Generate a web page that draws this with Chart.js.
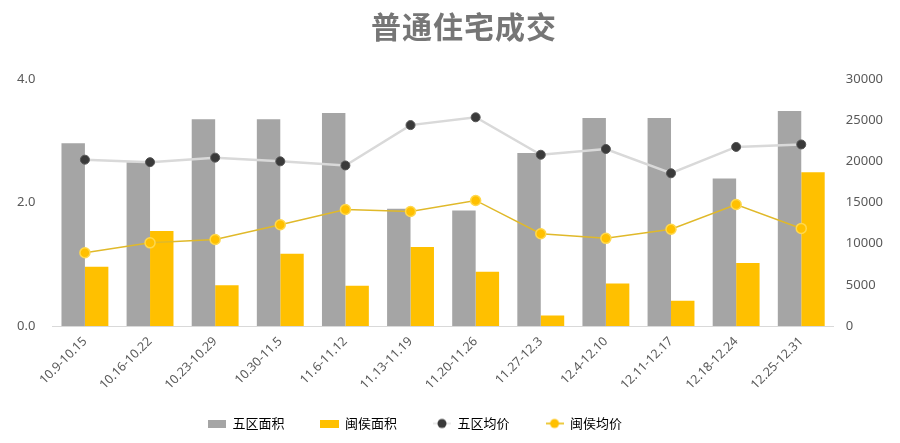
<!DOCTYPE html>
<html><head><meta charset="utf-8">
<script src="https://cdn.jsdelivr.net/npm/chart.js@4"></script>
<style>
html,body{margin:0;padding:0;background:#fff;}
#wrap{position:relative;width:900px;height:443px;}
#title{position:absolute;top:3px;left:354px;width:220px;text-align:center;font:bold 30px "Noto Sans CJK SC",sans-serif;color:#767676;letter-spacing:1px;}
</style></head>
<body><div id="wrap"><div id="title">普通住宅成交</div><canvas id="c" width="900" height="443"></canvas></div>
<script>
const categories = ["10.9-10.15","10.16-10.22","10.23-10.29","10.30-11.5","11.6-11.12","11.13-11.19","11.20-11.26","11.27-12.3","12.4-12.10","12.11-12.17","12.18-12.24","12.25-12.31"];
const wuquArea = [2.96,2.65,3.35,3.35,3.45,1.90,1.87,2.80,3.37,3.37,2.39,3.48];
const minhouArea = [0.96,1.54,0.66,1.17,0.65,1.28,0.88,0.17,0.69,0.41,1.02,2.49];
const wuquPrice = [20200,19900,20450,20000,19500,24400,25350,20800,21500,18550,21750,22050];
const minhouPrice = [8900,10100,10500,12300,14150,13900,15250,11200,10650,11750,14750,11850];
const leftTicks = [0,2,4];
const rightTicks = [0,5000,10000,15000,20000,25000,30000];

function mk(w,h,draw){const c=document.createElement('canvas');c.width=w;c.height=h;draw(c.getContext('2d'));return c;}
const icoGray = mk(18,8,g=>{g.fillStyle='#a5a5a5';g.fillRect(0,0,18,8);});
const icoYel = mk(19,8,g=>{g.fillStyle='#ffc000';g.fillRect(0,0,19,8);});
const icoDot = mk(18,12,g=>{g.strokeStyle='#e3e3e3';g.lineWidth=1.5;g.beginPath();g.moveTo(0,6);g.lineTo(18,6);g.stroke();g.fillStyle='#3a3a3a';g.beginPath();g.arc(9,6,4.5,0,Math.PI*2);g.fill();});
const icoYDot = mk(18,12,g=>{g.strokeStyle='#e6b800';g.lineWidth=1.5;g.beginPath();g.moveTo(0,6);g.lineTo(18,6);g.stroke();g.fillStyle='#ffc000';g.beginPath();g.arc(9,6,4.5,0,Math.PI*2);g.fill();});

const font = '"Noto Sans","Noto Sans CJK SC",sans-serif';
Chart.defaults.font.family = font;
Chart.defaults.color = '#595959';
const SP = '\u3000\u3000';
const SPEND = '\u3000\u3000\u3000\u3000\u3000';

new Chart(document.getElementById('c'),{
  data:{labels:categories,datasets:[
    {type:'bar',label:'五区面积',data:wuquArea,yAxisID:'y',backgroundColor:'#a5a5a5',order:3,categoryPercentage:0.72,barPercentage:1},
    {type:'bar',label:'闽侯面积',data:minhouArea,yAxisID:'y',backgroundColor:'#ffc000',order:3,categoryPercentage:0.72,barPercentage:1},
    {type:'line',label:'五区均价',data:wuquPrice,yAxisID:'y1',borderColor:'#d9d9d9',borderWidth:2.5,backgroundColor:'#3a3a3a',pointBorderColor:'#555',pointBorderWidth:1,pointRadius:4.5,order:1,tension:0},
    {type:'line',label:'闽侯均价',data:minhouPrice,yAxisID:'y1',borderColor:'#e0b92a',borderWidth:1.5,backgroundColor:'#ffc000',pointBorderColor:'#ffd84d',pointBorderWidth:1.5,pointRadius:5,order:0,tension:0}
  ]},
  options:{
    responsive:false,animation:false,
    layout:{padding:{top:79,left:8,right:13,bottom:3}},
    plugins:{
      title:{display:false},
      tooltip:{enabled:false},
      legend:{position:'bottom',
        labels:{usePointStyle:true,pointStyleWidth:18,padding:10,font:{size:13,family:'"Noto Sans CJK SC",sans-serif'},color:'#595959',
          generateLabels:(chart)=>{
            const icons=[icoGray,icoYel,icoDot,icoYDot];
            return chart.data.datasets.map((d,i)=>({text:d.label+(i<3?SP:SPEND),datasetIndex:i,pointStyle:icons[i],fillStyle:'#fff',strokeStyle:'#fff',lineWidth:0,hidden:false}));
          }
        }
      }
    },
    scales:{
      x:{grid:{display:false,drawTicks:false},border:{color:'#d9d9d9'},afterFit:a=>{a.height=81;a.paddingLeft=0;a.paddingRight=0;},ticks:{maxRotation:45,minRotation:45,padding:8,font:{size:12.5},color:'#595959'}},
      y:{position:'left',min:0,max:4,afterBuildTicks:a=>{a.ticks=leftTicks.map(v=>({value:v}));},grid:{display:false},border:{display:false},ticks:{padding:9,font:{size:13},color:'#595959',callback:v=>Number(v).toFixed(1)}},
      y1:{position:'right',min:0,max:30000,afterBuildTicks:a=>{a.ticks=rightTicks.map(v=>({value:v}));},grid:{display:false},border:{display:false},ticks:{padding:4,font:{size:13},color:'#595959',callback:v=>String(v)}}
    }
  }
});
</script></body></html>
